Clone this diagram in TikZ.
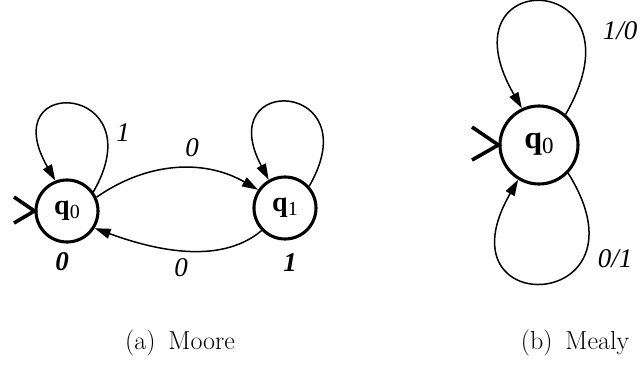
\documentclass[tikz,border=0pt]{standalone}
\usepackage{fontspec}
\newfontfamily\tms{Liberation Serif}
\usetikzlibrary{arrows.meta}
\tikzset{
  state/.style={circle, draw, line width=3.1pt, inner sep=0pt},
  conn/.style={line width=1.5pt, -{Triangle[length=16pt,width=10pt]}},
  initarr/.style={line width=3.6pt, line join=miter},
  trlab/.style={font=\tms\itshape\fontsize{27}{27}\selectfont, inner sep=0pt},
  outlab/.style={font=\tms\bfseries\itshape\fontsize{27}{27}\selectfont, inner sep=0pt},
  caplab/.style={font=\fontsize{26}{26}\selectfont, inner sep=0pt}
}
\newcommand{\qlab}[3]{{\tms\fontsize{#1}{#1}\selectfont\textbf{q}\raisebox{-0.14em}{\fontsize{#2}{#2}\selectfont #3}}}
\begin{document}
\begin{tikzpicture}[x=1pt,y=1pt]
\useasboundingbox (0,0) rectangle (641,368);
% ---------- Moore ----------
\node[state, minimum size=62pt] (a0) at (67,157) {\raisebox{3pt}{\qlab{28}{20}{0}}};
\node[state, minimum size=62pt] (a1) at (285,160) {\raisebox{3pt}{\qlab{28}{20}{1}}};
\coordinate (ia1) at (14,171);
\coordinate (ia2) at (14,145);
\draw[initarr] (ia1) -- (a0.west) -- (ia2);
\draw[conn] (a0.36) .. controls +(60:125) and +(120:125) .. (a0.111);
\draw[conn] (a1.42) .. controls +(60:122) and +(118:122) .. (a1.120);
\draw[conn] (a0.25) .. controls +(35:62) and +(150:62) .. (a1.146);
\draw[conn] (a1.224) .. controls +(220:57) and +(340:57) .. (a0.328);
\node[trlab] (l1) at (123,235) {1};
\node[trlab] (l2) at (192,220) {0};
\node[trlab] (l3) at (181,100) {0};
\node[outlab] (o0) at (62,106) {0};
\node[outlab] (o1) at (290,105) {1};
\node[caplab] (ca) at (180,25) {(a)\hspace{0.5em}Moore};
% ---------- Mealy ----------
\node[state, minimum size=78pt] (b0) at (539,223) {\raisebox{8pt}{\qlab{32}{23}{0}}};
\coordinate (ib1) at (472,241);
\coordinate (ib2) at (472,208);
\draw[initarr] (ib1) -- (b0.west) -- (ib2);
\draw[conn] (b0.49) .. controls +(60:168) and +(120:168) .. (b0.115);
\draw[conn] (b0.316) .. controls +(-58:165) and +(240:165) .. (b0.239);
\node[trlab] (m1) at (620,337) {1/0};
\node[trlab] (m2) at (615,109) {0/1};
\node[caplab] (cb) at (575,25) {(b)\hspace{0.5em}Mealy};
\end{tikzpicture}
\end{document}
